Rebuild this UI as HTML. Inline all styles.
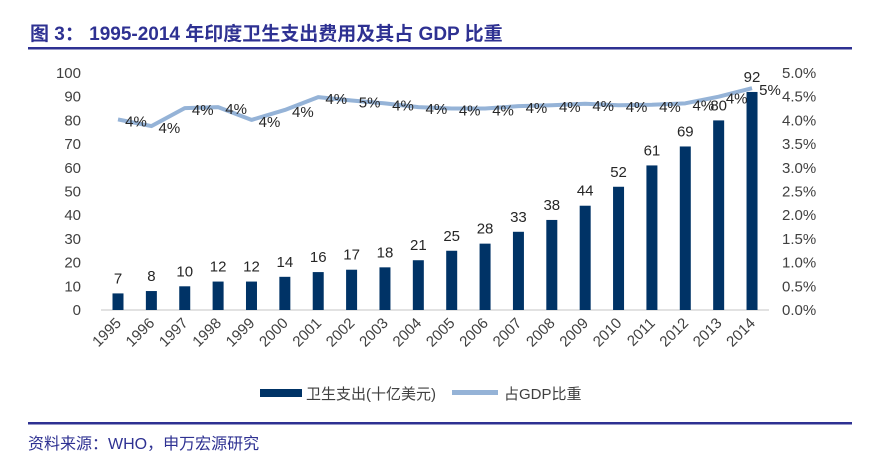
<!DOCTYPE html>
<html><head><meta charset="utf-8">
<style>
body{margin:0;background:#fff;}
svg{display:block;font-family:"Liberation Sans","Noto Sans CJK SC",sans-serif;}
</style></head>
<body>
<svg width="890" height="471" viewBox="0 0 890 471">
<text x="30" y="40" font-size="19" font-weight="bold" fill="#2e3192" font-family="'Liberation Sans','Noto Sans CJK SC',sans-serif">图 3：  1995-2014 年印度卫生支出费用及其占 GDP 比重</text>
<rect x="28" y="47" width="824" height="2.5" fill="#2e3192"/>
<g id="plot"></g>
<g>
<rect x="260" y="389" width="42" height="8" fill="#003366"/>
<text x="306" y="399" font-size="15" fill="#404040">卫生支出(十亿美元)</text>
<rect x="452" y="390" width="46" height="5" fill="#95b3d7"/>
<text x="504" y="399" font-size="15" fill="#404040">占GDP比重</text>
</g>
<rect x="28" y="422" width="824" height="2.5" fill="#2e3192"/>
<text x="28" y="449" font-size="16" fill="#2e3192">资料来源：WHO，申万宏源研究</text>
</svg>
<script>
const years=["1995","1996","1997","1998","1999","2000","2001","2002","2003","2004","2005","2006","2007","2008","2009","2010","2011","2012","2013","2014"];
const spending=[7,8,10,12,12,14,16,17,18,21,25,28,33,38,44,52,61,69,80,92];
const gdpShare=[4.02,3.88,4.26,4.28,4.01,4.22,4.49,4.42,4.36,4.28,4.25,4.25,4.30,4.32,4.35,4.32,4.33,4.36,4.50,4.68];
const gdpLabels=["4%","4%","4%","4%","4%","4%","4%","5%","4%","4%","4%","4%","4%","4%","4%","4%","4%","4%","4%","5%"];
const leftTicks=[0,10,20,30,40,50,60,70,80,90,100];
const rightTicks=[0,0.5,1,1.5,2,2.5,3,3.5,4,4.5,5];
const NS="http://www.w3.org/2000/svg";
const g=document.getElementById('plot');
const x0=118,step=33.37,yBase=310,yTop=73;
const xs=i=>x0+i*step;
const yL=v=>yBase-(v/100)*(yBase-yTop);
const yR=v=>yBase-(v/5)*(yBase-yTop);
function mk(t,a,txt){const e=document.createElementNS(NS,t);for(const k in a)e.setAttribute(k,a[k]);if(txt!==undefined)e.textContent=txt;g.appendChild(e);return e;}
leftTicks.forEach(v=>{const e=mk('text',{x:81,y:yL(v)+5,'font-size':15,fill:'#404040','text-anchor':'end'},v);

});
rightTicks.forEach(v=>{const e=mk('text',{x:782,y:yR(v)+5,'font-size':15,fill:'#404040'},v.toFixed(1)+'%');

});
const ax=mk('line',{x1:101,x2:769,y1:yBase,y2:yBase,stroke:'#d9d9d9','stroke-width':1.5});


spending.forEach((v,i)=>{
const b=mk('rect',{x:xs(i)-5.5,y:yL(v),width:11,height:yBase-yL(v),fill:'#003366'});


const t=mk('text',{x:xs(i),y:yL(v)-10,'font-size':15,fill:'#262626','text-anchor':'middle'},v);


const yl=mk('text',{x:xs(i)+4,y:yBase+14,'font-size':15,fill:'#404040','text-anchor':'end',transform:`rotate(-45 ${xs(i)+4} ${yBase+14})`},years[i]);


});
const pl=mk('polyline',{points:gdpShare.map((v,i)=>xs(i)+','+yR(v)).join(' '),fill:'none',stroke:'#95b3d7','stroke-width':4,'stroke-linejoin':'round'});


gdpShare.forEach((v,i)=>{
const t=mk('text',{x:xs(i)+18,y:yR(v)+7,'font-size':15,fill:'#262626','text-anchor':'middle'},gdpLabels[i]);


});
</script>
</body></html>
